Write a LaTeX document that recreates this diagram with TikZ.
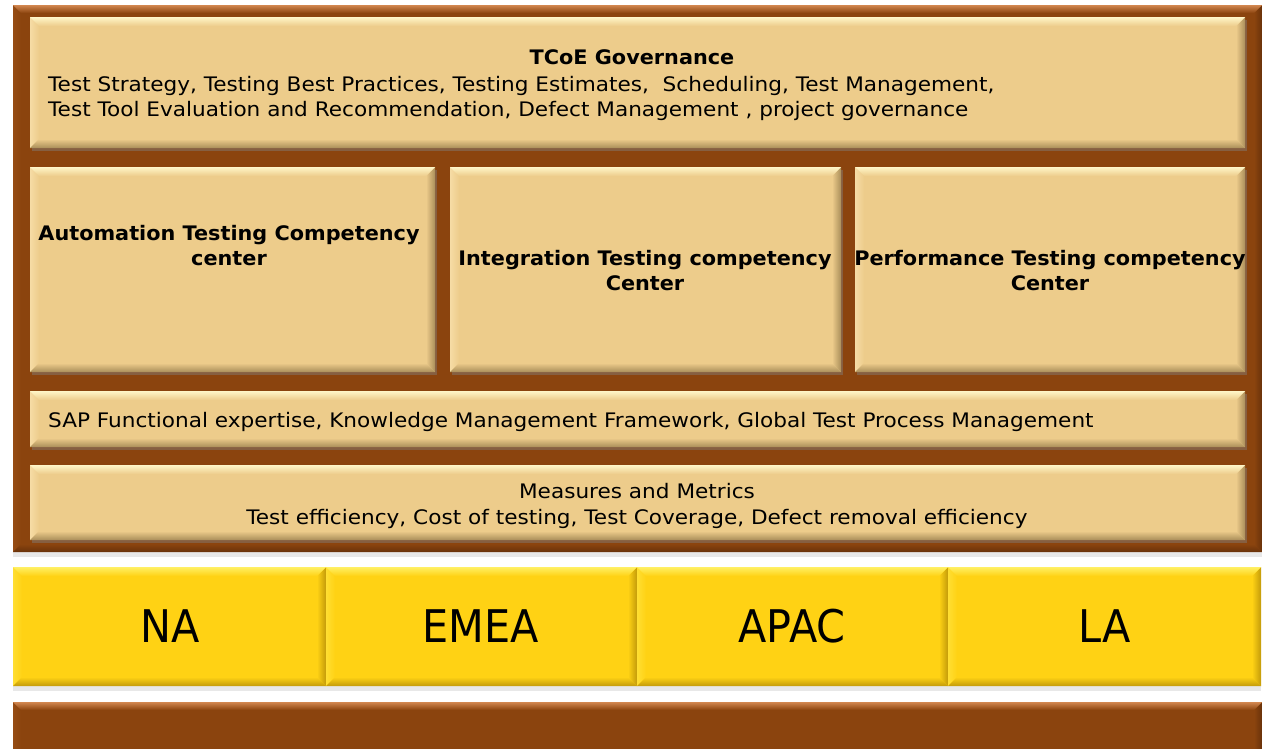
\documentclass[tikz,border=0pt]{standalone}
\usepackage{fontspec}
\setmainfont{DejaVu Sans}
\newfontfamily\bodyfont{DejaVu Sans}[FakeStretch=1.08]
\newfontfamily\headfont{DejaVu Sans Bold}[FakeStretch=1.04]
\newfontfamily\regionfont{DejaVu Sans}[FakeStretch=0.92]
\usetikzlibrary{shadows}
\definecolor{brownbase}{RGB}{139,68,14}
\definecolor{brownlight}{RGB}{210,135,80}
\definecolor{brownleft}{RGB}{150,76,20}
\definecolor{browndark}{RGB}{105,50,10}
\definecolor{tanbase}{RGB}{237,204,139}
\definecolor{tanlight}{RGB}{255,246,200}
\definecolor{tanleft}{RGB}{246,220,165}
\definecolor{tandark}{RGB}{170,142,90}
\definecolor{yelbase}{RGB}{255,210,20}
\definecolor{yellight}{RGB}{255,240,100}
\definecolor{yelleft}{RGB}{255,222,50}
\definecolor{yeldark}{RGB}{195,155,10}
\newcommand\bevelfx[5]{%
  \coordinate (bNW) at (path picture bounding box.north west);
  \coordinate (bNE) at (path picture bounding box.north east);
  \coordinate (bSW) at (path picture bounding box.south west);
  \coordinate (bSE) at (path picture bounding box.south east);
  \shade[left color=#2, right color=#3] (bNW) -- ([shift={(#5,-#5)}]bNW) -- ([shift={(#5,#5)}]bSW) -- (bSW) -- cycle;
  \shade[left color=#3, right color=#4] (bNE) -- ([shift={(-#5,-#5)}]bNE) -- ([shift={(-#5,#5)}]bSE) -- (bSE) -- cycle;
  \shade[top color=#3, bottom color=#4] (bSW) -- ([shift={(#5,#5)}]bSW) -- ([shift={(-#5,#5)}]bSE) -- (bSE) -- cycle;
  \shade[top color=#1, bottom color=#3] (bNW) -- (bNE) -- ([shift={(-#5,-#5)}]bNE) -- ([shift={(#5,-#5)}]bNW) -- cycle;
}
\tikzset{
  panel/.style={inner sep=0pt, outer sep=0pt, anchor=north west},
  brownbox/.style={panel, fill=brownbase,
    drop shadow={shadow xshift=0pt, shadow yshift=-5pt, opacity=0.18},
    path picture={\bevelfx{brownlight}{brownleft}{brownbase}{browndark}{8pt}}},
  tanbox/.style={panel, fill=tanbase,
    drop shadow={shadow xshift=2pt, shadow yshift=-3pt, opacity=0.45},
    path picture={\bevelfx{tanlight}{tanleft}{tanbase}{tandark}{9pt}}},
  yelbox/.style={panel, fill=yelbase,
    drop shadow={shadow xshift=0pt, shadow yshift=-5pt, opacity=0.18},
    path picture={\bevelfx{yellight}{yelleft}{yelbase}{yeldark}{9pt}}},
  txt/.style={inner sep=0pt, font=\bodyfont\fontsize{20}{25}\selectfont, anchor=base},
  btxt/.style={txt, font=\headfont\fontsize{20}{25}\selectfont},
  ltxt/.style={txt, anchor=base west},
  region/.style={inner sep=0pt, font=\regionfont\fontsize{45}{50}\selectfont, anchor=base},
}
\begin{document}
\begin{tikzpicture}[x=1pt,y=-1pt]
\useasboundingbox[fill=white] (0,0) rectangle (1264,748);
% frame
\node[brownbox, minimum width=1249pt, minimum height=547pt] (frame) at (13,5) {};
% panels
\node[tanbox, minimum width=1215pt, minimum height=131pt] (gov) at (30,17) {};
\node[tanbox, minimum width=405pt, minimum height=205pt] (atc) at (30,167) {};
\node[tanbox, minimum width=391pt, minimum height=205pt] (itc) at (450,167) {};
\node[tanbox, minimum width=390pt, minimum height=205pt] (ptc) at (855,167) {};
\node[tanbox, minimum width=1215pt, minimum height=56pt] (sap) at (30,391) {};
\node[tanbox, minimum width=1215pt, minimum height=75pt] (mm) at (30,465) {};
% regions
\node[yelbox, minimum width=313pt, minimum height=119pt] (na) at (13,567) {};
\node[yelbox, minimum width=311pt, minimum height=119pt] (emea) at (326,567) {};
\node[yelbox, minimum width=311pt, minimum height=119pt] (apac) at (637,567) {};
\node[yelbox, minimum width=313pt, minimum height=119pt] (la) at (948,567) {};
% base bar
\node[brownbox, minimum width=1249pt, minimum height=70pt] (base) at (13,702) {};
% texts
\node[btxt] (govt) at (632,64) {TCoE Governance};
\node[ltxt] (gov1) at (48,91) {Test Strategy, Testing Best Practices, Testing Estimates,\ \ Scheduling, Test Management,};
\node[ltxt] (gov2) at (48,116.5) {Test Tool Evaluation and Recommendation, Defect Management , project governance};
\node[btxt] (atc1) at (229,240) {Automation Testing Competency};
\node[btxt] (atc2) at (229,265) {center};
\node[btxt] (itc1) at (645,265) {Integration Testing competency};
\node[btxt] (itc2) at (645,290) {Center};
\node[btxt] (ptc1) at (1050,265) {Performance Testing competency};
\node[btxt] (ptc2) at (1050,290) {Center};
\node[ltxt] (sapt) at (48,427) {SAP Functional expertise, Knowledge Management Framework, Global Test Process Management};
\node[txt] (mm1) at (637,498.5) {Measures and Metrics};
\node[txt] (mm2) at (637,524) {Test efficiency, Cost of testing, Test Coverage, Defect removal efficiency};
\node[region] (nat) at (170,642) {NA};
\node[region] (emeat) at (481,642) {EMEA};
\node[region] (apact) at (792,642) {APAC};
\node[region] (lat) at (1105,642) {LA};
\end{tikzpicture}
\end{document}
